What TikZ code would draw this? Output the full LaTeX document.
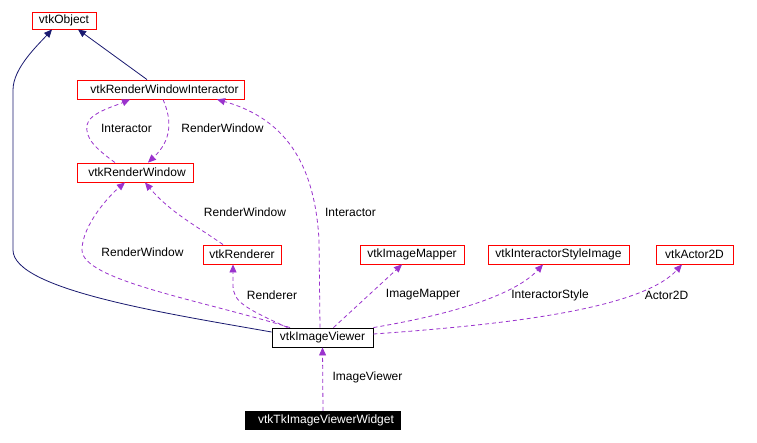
\documentclass[tikz,border=0pt]{standalone}
\usepackage{fontspec}
\setmainfont{Liberation Sans}
\usetikzlibrary{arrows.meta}
\definecolor{edgepurple}{HTML}{9A32CD}
\definecolor{edgenavy}{HTML}{191970}
\begin{document}
\begin{tikzpicture}[x=1pt,y=-1pt,
  every node/.style={font=\fontsize{12}{14}\selectfont},
  cls/.style={draw=red, line width=0.9pt, minimum height=19pt, inner sep=0pt, text=black},
  cur/.style={draw=black, line width=0.9pt, minimum height=19pt, inner sep=0pt},
  root/.style={fill=black, text=white, minimum height=19pt, inner sep=0pt},
  inh/.style={draw=edgenavy, line width=0.8pt, -{Triangle[length=8pt,width=7pt]}},
  use/.style={draw=edgepurple, line width=0.8pt, dash pattern=on 4pt off 3pt, -{Triangle[length=8pt,width=7pt]}},
  lbl/.style={inner sep=0pt}]
\useasboundingbox (0,0) rectangle (757,442);
\fill[white] (0,0) rectangle (757,442);
% nodes
\node[cls, minimum width=64pt, minimum height=17pt] (obj) at (64,20.5) {vtkObject};
\node[cls, minimum width=167pt] (rwi) at (160.5,89.5) {\hspace*{8pt}vtkRenderWindowInteractor};
\node[cls, minimum width=116pt] (rw) at (135,172.5) {\hspace*{4pt}vtkRenderWindow};
\node[cls, minimum width=78pt] (ren) at (242,254.5) {vtkRenderer};
\node[cls, minimum width=104pt] (im) at (412,254.5) {vtkImageMapper};
\node[cls, minimum width=141pt] (isi) at (558.5,254.5) {vtkInteractorStyleImage};
\node[cls, minimum width=77pt] (a2d) at (694.5,254.5) {vtkActor2D};
\node[cur, minimum width=101pt] (iv) at (322.5,337.5) {vtkImageViewer};
\node[root, minimum width=156pt] (tk) at (323,420.5) {\hspace*{6pt}vtkTkImageViewerWidget};
% inheritance
\draw[inh] ([xshift=-13.5pt]rwi.north) -- ([xshift=14pt]obj.south);
\draw[inh] ([yshift=5.5pt]iv.west) .. controls (170,314) and (13,290) .. (13,250) -- (13,90) .. controls (13,68) and (38,45) .. ([xshift=-12pt]obj.south);
% usage
\draw[use] ([xshift=-20pt]rw.north) .. controls (95,148) and (85,138) .. (87,125) .. controls (89,113) and (115,106) .. ([xshift=-30.5pt]rwi.south);
\draw[use] ([xshift=2.5pt]rwi.south) .. controls (172,120) and (172,140) .. ([xshift=13pt]rw.north);
\draw[use] ([xshift=-19pt]ren.north) .. controls (195,225) and (170,212) .. ([xshift=10pt]rw.south);
\draw[use] ([xshift=-32.5pt]iv.north) .. controls (200,300) and (82,280) .. (82,250) .. controls (82,225) and (110,195) .. ([xshift=-10pt]rw.south);
\draw[use] ([xshift=-35pt]iv.north) .. controls (245,308) and (233,302) .. (233,285) -- ([xshift=-9pt]ren.south);
\draw[use] ([xshift=-2.5pt]iv.north) -- (319,240) .. controls (315,170) and (290,120) .. ([xshift=56.5pt]rwi.south);
\draw[use] ([xshift=11pt]iv.north) -- ([xshift=-10pt]im.south);
\draw[use] (iv.north east) .. controls (430,318) and (510,300) .. ([xshift=-15.5pt]isi.south);
\draw[use] ([yshift=3.5pt]iv.east) .. controls (500,325) and (640,310) .. ([xshift=-12.5pt]a2d.south);
\draw[use] (tk.north) -- (iv.south);
% labels
\node[lbl] (l1) at (126.5,128) {Interactor};
\node[lbl] (l2) at (222.5,128) {RenderWindow};
\node[lbl] (l3) at (245,212) {RenderWindow};
\node[lbl] (l4) at (350.5,212) {Interactor};
\node[lbl] (l5) at (142.5,252) {RenderWindow};
\node[lbl] (l6) at (272,295) {Renderer};
\node[lbl] (l7) at (423,295) {ImageMapper};
\node[lbl] (l8) at (550,295) {InteractorStyle};
\node[lbl] (l9) at (666.5,295) {Actor2D};
\node[lbl] (l10) at (367.5,377) {ImageViewer};
\end{tikzpicture}
\end{document}
